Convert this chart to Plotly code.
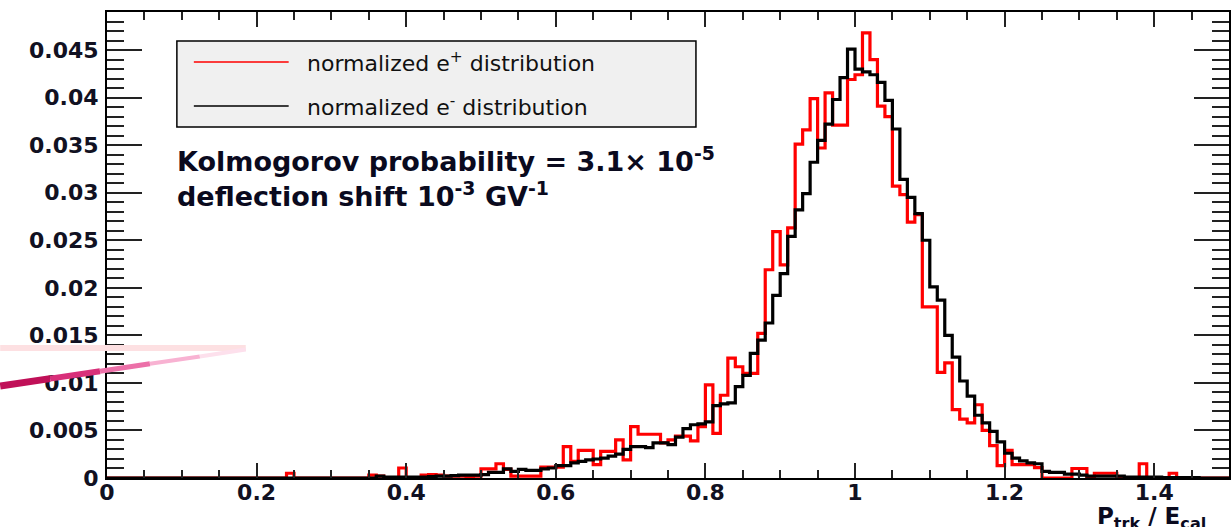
import plotly.graph_objects as go

# ---------------- data ----------------
bin_start = 0.0
bin_width = 0.01
n_bins = 150

# normalized e+ distribution (red), one value per 0.01 bin from 0.00 to 1.49
positron = [
    0, 0, 0, 0, 0, 0, 0, 0, 0, 0,                                   # 0.00
    0, 0, 0, 0, 0, 0, 0, 0, 0, 0,                                   # 0.10
    0, 0, 0, 0, 0.0005, 0, 0, 0, 0, 0,                              # 0.20
    0, 0, 0, 0, 0, 0.0003, 0.0002, 0, 0, 0.00105,                   # 0.30
    0, 0, 0.0003, 0.00035, 0.0003, 0.0002, 0.0002, 0.0002, 0.0001, 0.0002,  # 0.40
    0.00095, 0.00095, 0.0015, 0.0009, 0.0002, 0.0002, 0.0002, 0.0002, 0.00115, 0.00115,  # 0.50
    0.00115, 0.0033, 0.00175, 0.0029, 0.0029, 0.0014, 0.0028, 0.0028, 0.0040, 0.0019,  # 0.60
    0.0054, 0.0046, 0.0046, 0.0046, 0.0037, 0.0040, 0.0044, 0.0044, 0.0039, 0.0054,  # 0.70
    0.0098, 0.0047, 0.0087, 0.0126, 0.0117, 0.0110, 0.0110, 0.0152, 0.0219, 0.0259,  # 0.80
    0.0224, 0.0263, 0.0351, 0.0366, 0.0399, 0.0347, 0.0405, 0.0371, 0.0371, 0.0419,  # 0.90
    0.0424, 0.0468, 0.0440, 0.0391, 0.0380, 0.0307, 0.0298, 0.0269, 0.0277, 0.0180,  # 1.00
    0.0180, 0.0111, 0.0121, 0.0072, 0.0062, 0.0058, 0.0077, 0.0050, 0.0034, 0.0013,  # 1.10
    0.0029, 0.0014, 0.0014, 0.0014, 0.0011, 0, 0, 0, 0, 0.0010,     # 1.20
    0.0010, 0, 0.0005, 0.0005, 0.0005, 0, 0, 0, 0.0015, 0,          # 1.30
    0, 0, 0.0005, 0, 0, 0, 0, 0, 0, 0,                              # 1.40
]

# normalized e- distribution (black)
electron = [
    0, 0, 0, 0, 0, 0, 0, 0, 0, 0,                                   # 0.00
    0, 0, 0, 0, 0, 0, 0, 0, 0, 0,                                   # 0.10
    0, 0, 0, 0, 0, 0, 0, 0, 0, 0,                                   # 0.20
    0, 0, 0, 0, 0, 0, 0.0002, 0.0001, 0.0001, 0.0001,               # 0.30
    0.0001, 0.0001, 0.0001, 0.00015, 0.0002, 0.0002, 0.00025, 0.0003, 0.0003, 0.0003,  # 0.40
    0.00035, 0.0006, 0.0006, 0.00095, 0.0007, 0.0009, 0.0008, 0.0008, 0.00095, 0.00105,  # 0.50
    0.0013, 0.0013, 0.0016, 0.00175, 0.0019, 0.0020, 0.0021, 0.0023, 0.0025, 0.0030,  # 0.60
    0.0033, 0.0033, 0.0032, 0.0037, 0.0037, 0.0035, 0.0043, 0.0052, 0.0056, 0.0057,  # 0.70
    0.0059, 0.0076, 0.0078, 0.0079, 0.0096, 0.0108, 0.0131, 0.0145, 0.0163, 0.0192,  # 0.80
    0.0215, 0.0254, 0.0282, 0.0299, 0.0332, 0.0355, 0.0372, 0.0398, 0.0421, 0.0451,  # 0.90
    0.0430, 0.0427, 0.0424, 0.0416, 0.0397, 0.0367, 0.0314, 0.0295, 0.0278, 0.0250,  # 1.00
    0.0201, 0.0187, 0.0150, 0.0127, 0.0102, 0.0086, 0.0066, 0.0058, 0.0049, 0.0038,  # 1.10
    0.0026, 0.0021, 0.0018, 0.0016, 0.0015, 0.0007, 0.0006, 0.0006, 0.0004, 0.0004,  # 1.20
    0.0003, 0.0002, 0.0002, 0.0002, 0.0002, 0.0002, 0.0001, 0.0001, 0.0001, 0.0001,  # 1.30
    0.0001, 0.00005, 0.00005, 0.00005, 0.00005, 0.00005, 0, 0, 0, 0,  # 1.40
]

x_tick_vals = [0, 0.2, 0.4, 0.6, 0.8, 1.0, 1.2, 1.4]
x_tick_labels = ["0", "0.2", "0.4", "0.6", "0.8", "1", "1.2", "1.4"]
y_tick_vals = [0, 0.005, 0.01, 0.015, 0.02, 0.025, 0.03, 0.035, 0.04, 0.045]
y_tick_labels = ["0", "0.005", "0.01", "0.015", "0.02", "0.025", "0.03", "0.035", "0.04", "0.045"]

legend_labels = ["normalized e<sup>+</sup> distribution", "normalized e<sup>-</sup> distribution"]
info_lines = ["Kolmogorov probability = 3.1\u00d7 10<sup>-5</sup>",
              "deflection shift 10<sup>-3</sup> GV<sup>-1</sup>"]
x_title = "P<sub>trk</sub> / E<sub>cal</sub>"

# ---------------- figure ----------------
W, H = 1232, 527
ML, MR, MT, MB = 107, 1, 12, 49
PW, PH = W - ML - MR, H - MT - MB


def px(x):
    return (x - ML) / PW


def py(y):
    return (H - MB - y) / PH


edges = [round(bin_start + i * bin_width, 4) for i in range(n_bins + 1)]

fig = go.Figure()
for vals, col in [(positron, "#ff0000"), (electron, "#000000")]:
    fig.add_trace(go.Scatter(
        x=edges, y=list(vals) + [vals[-1]],
        mode="lines", line=dict(color=col, width=3.2, shape="hv"),
        showlegend=False, hoverinfo="skip",
    ))

tick_font = dict(family="DejaVu Sans", size=22, color="#111122", weight="bold")

fig.update_layout(
    width=W, height=H,
    margin=dict(l=ML, r=MR, t=MT, b=MB, pad=0),
    paper_bgcolor="white", plot_bgcolor="white",
    xaxis=dict(
        range=[0, 1.5], tickmode="array", tickvals=x_tick_vals, ticktext=x_tick_labels,
        ticks="inside", ticklen=15, tickwidth=1.5, tickcolor="#222",
        minor=dict(dtick=0.05, tick0=0, ticks="inside", ticklen=8, tickwidth=1.5, tickcolor="#222"),
        showline=True, linewidth=2, linecolor="black", mirror="allticks",
        showgrid=False, zeroline=False, tickfont=tick_font, ticklabelstandoff=-6,
    ),
    yaxis=dict(
        range=[0, 0.049], tickmode="array", tickvals=y_tick_vals, ticktext=y_tick_labels,
        ticks="inside", ticklen=35, tickwidth=1.5, tickcolor="#222",
        minor=dict(dtick=0.001, tick0=0, ticks="inside", ticklen=17, tickwidth=1.5, tickcolor="#222"),
        showline=True, linewidth=2, linecolor="black", mirror="allticks",
        showgrid=False, zeroline=False, tickfont=tick_font, ticklabelstandoff=2,
    ),
)

shapes = []
# legend box
shapes.append(dict(type="rect", xref="paper", yref="paper",
                   x0=px(177), x1=px(697), y0=py(127), y1=py(41),
                   fillcolor="#f0f0f0", line=dict(color="black", width=1.5), layer="above"))
annotations = []
for i, (lab, col) in enumerate(zip(legend_labels, ["#ff0000", "#000000"])):
    yy = py(62 + 44 * i)
    shapes.append(dict(type="line", xref="paper", yref="paper",
                       x0=px(194), x1=px(289), y0=yy, y1=yy,
                       line=dict(color=col, width=1.5), layer="above"))
    annotations.append(dict(xref="paper", yref="paper", x=px(305), y=yy,
                            xanchor="left", yanchor="middle", showarrow=False, text=lab,
                            font=dict(family="DejaVu Sans", size=22, color="#111111")))

for i, t in enumerate(info_lines):
    annotations.append(dict(xref="paper", yref="paper", x=px(175), y=py(159 + 35 * i),
                            xanchor="left", yanchor="middle", showarrow=False, text=t,
                            font=dict(family="DejaVu Sans", size=27, color="#0a0a1e", weight="bold")))

annotations.append(dict(xref="paper", yref="paper", x=px(1097), y=py(535),
                        xanchor="left", yanchor="bottom", showarrow=False, text=x_title,
                        font=dict(family="DejaVu Sans", size=23, color="#0a0a1e", weight="bold")))

# decorative pink swoosh at the left edge (slide artifact in the original image)
shapes.append(dict(type="line", xref="paper", yref="paper",
                   x0=px(0), x1=px(246), y0=py(348), y1=py(348),
                   line=dict(color="#fde0e2", width=6), layer="above"))
swoosh = [((0, 386), (50, 378.6), "#c01058", 7), ((50, 378.6), (100, 371.2), "#d8307a", 6),
          ((100, 371.2), (150, 363.8), "#ec70a8", 5), ((150, 363.8), (200, 356.4), "#f8b2d2", 4),
          ((200, 356.4), (246, 349.5), "#fde0ec", 4)]
for (a, b, c, w) in swoosh:
    shapes.append(dict(type="line", xref="paper", yref="paper",
                       x0=px(a[0]), y0=py(a[1]), x1=px(b[0]), y1=py(b[1]),
                       line=dict(color=c, width=w), layer="above"))

fig.update_layout(shapes=shapes, annotations=annotations)
fig.write_html("out.html")
